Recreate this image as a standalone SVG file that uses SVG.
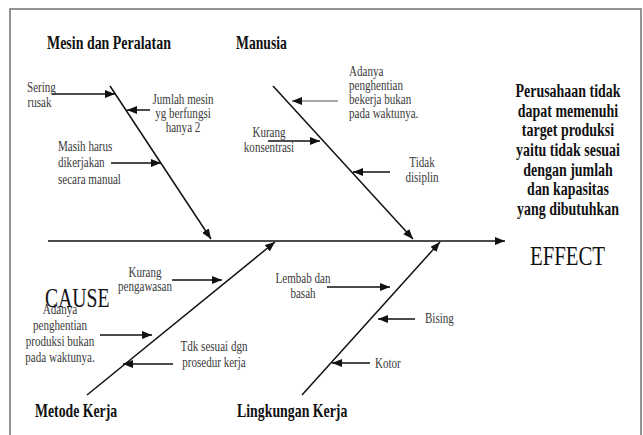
<svg xmlns="http://www.w3.org/2000/svg" width="643" height="435" viewBox="0 0 643 435">
  <style>
    .frame { fill: none; stroke: #707070; stroke-width: 1.5; }
    .bone { fill: none; stroke: #111; stroke-width: 1.5; marker-end: url(#ah); }
    .rib { fill: none; stroke: #111; stroke-width: 1.5; marker-end: url(#ah); }
    .rib.gray { stroke: #8a8a8a; }
    .title { font-family: "Liberation Serif", "Times New Roman", serif; font-weight: bold; font-size: 18px; fill: #111; }
    .big { font-family: "Liberation Serif", "Times New Roman", serif; font-size: 27px; fill: #111; }
    .effect { font-family: "Liberation Serif", "Times New Roman", serif; font-weight: bold; font-size: 18px; fill: #111; text-anchor: middle; }
    .lbl { font-family: "Liberation Serif", "Times New Roman", serif; font-size: 14px; fill: #3a3a3a; }
    .mid { text-anchor: middle; }
  </style>
  <defs>
    <marker id="ah" markerUnits="userSpaceOnUse" markerWidth="10" markerHeight="8" refX="10" refY="4" orient="auto">
      <path d="M0,0 L10,4 L0,8 z" fill="#111"/>
    </marker>
  </defs>
  <rect width="643" height="435" fill="#fff"/>
  <path class="frame" d="M10,435 V9 H641 V435"/>

  <g id="connectors">
    <path class="bone" d="M48,241 H505"/>
    <path class="bone" d="M110,86 L211,239"/>
    <path class="bone" d="M273,86 L413,239"/>
    <path class="bone" d="M87,395 L275,242"/>
    <path class="bone" d="M302,395 L440,242"/>
    <path class="rib" d="M52,94 H115"/>
    <path class="rib" d="M150,110 H127"/>
    <path class="rib" d="M111,163 H161"/>
    <path class="rib gray" d="M338,101 H292"/>
    <path class="rib" d="M268,141 H320"/>
    <path class="rib" d="M390,172 H353"/>
    <path class="rib" d="M172,280 H222"/>
    <path class="rib" d="M100,335 H152"/>
    <path class="rib" d="M173,364 H123"/>
    <path class="rib" d="M327,287 H390"/>
    <path class="rib" d="M415,319 H378"/>
    <path class="rib" d="M370,363 H332"/>
  </g>

  <g id="mesin">
    <text class="title" transform="matrix(0.775 0 0 1 47 49)">Mesin dan Peralatan</text>
    <text class="lbl" transform="matrix(0.79 0 0 1 27 92)">Sering</text>
    <text class="lbl" transform="matrix(0.79 0 0 1 27.5 107)">rusak</text>
    <text class="lbl mid" transform="matrix(0.79 0 0 1 183 104)"><tspan x="0" y="0">Jumlah mesin</tspan><tspan x="0" y="14">yg berfungsi</tspan><tspan x="0" y="28">hanya 2</tspan></text>
    <text class="lbl" transform="matrix(0.79 0 0 1 58 151)"><tspan x="0" y="0">Masih harus</tspan><tspan x="0" y="16">dikerjakan</tspan><tspan x="0" y="33">secara manual</tspan></text>
  </g>

  <g id="manusia">
    <text class="title" transform="matrix(0.76 0 0 1 236 49)">Manusia</text>
    <text class="lbl" transform="matrix(0.79 0 0 1 349 76)"><tspan x="0" y="0">Adanya</tspan><tspan x="0" y="14">penghentian</tspan><tspan x="0" y="28">bekerja bukan</tspan><tspan x="0" y="42">pada waktunya.</tspan></text>
    <text class="lbl mid" transform="matrix(0.79 0 0 1 269 137)">Kurang</text>
    <text class="lbl mid" transform="matrix(0.79 0 0 1 269 152)">konsentrasi</text>
    <text class="lbl mid" transform="matrix(0.79 0 0 1 422 167)"><tspan x="0" y="0">Tidak</tspan><tspan x="0" y="15">disiplin</tspan></text>
  </g>

  <g id="metode">
    <text class="title" transform="matrix(0.765 0 0 1 35 417)">Metode Kerja</text>
    <text class="lbl mid" transform="matrix(0.79 0 0 1 145 277)"><tspan x="0" y="0">Kurang</tspan><tspan x="0" y="14">pengawasan</tspan></text>
    <text class="lbl mid" transform="matrix(0.79 0 0 1 60 314)"><tspan x="0" y="0">Adanya</tspan><tspan x="0" y="16">penghentian</tspan><tspan x="0" y="32">produksi bukan</tspan><tspan x="0" y="48">pada waktunya.</tspan></text>
    <text class="lbl mid" transform="matrix(0.79 0 0 1 214 351)"><tspan x="0" y="0">Tdk sesuai dgn</tspan><tspan x="0" y="16">prosedur kerja</tspan></text>
  </g>

  <g id="lingkungan">
    <text class="title" transform="matrix(0.77 0 0 1 237 417)">Lingkungan Kerja</text>
    <text class="lbl mid" transform="matrix(0.79 0 0 1 303 283)"><tspan x="0" y="0">Lembab dan</tspan><tspan x="0" y="15">basah</tspan></text>
    <text class="lbl" transform="matrix(0.79 0 0 1 425 323)">Bising</text>
    <text class="lbl" transform="matrix(0.79 0 0 1 375 368)">Kotor</text>
  </g>

  <g id="cause">
    <text class="big" transform="matrix(0.73 0 0 1 45 307)">CAUSE</text>
  </g>

  <g id="effect">
    <text class="big" transform="matrix(0.77 0 0 1 530 265)">EFFECT</text>
    <text class="effect" transform="matrix(0.775 0 0 1 568 97)"><tspan x="0" y="0">Perusahaan tidak</tspan><tspan x="0" y="19.7">dapat memenuhi</tspan><tspan x="0" y="39.4">target produksi</tspan><tspan x="0" y="59.1">yaitu tidak sesuai</tspan><tspan x="0" y="78.8">dengan jumlah</tspan><tspan x="0" y="98.5">dan kapasitas</tspan><tspan x="0" y="118.2">yang dibutuhkan</tspan></text>
  </g>
</svg>
